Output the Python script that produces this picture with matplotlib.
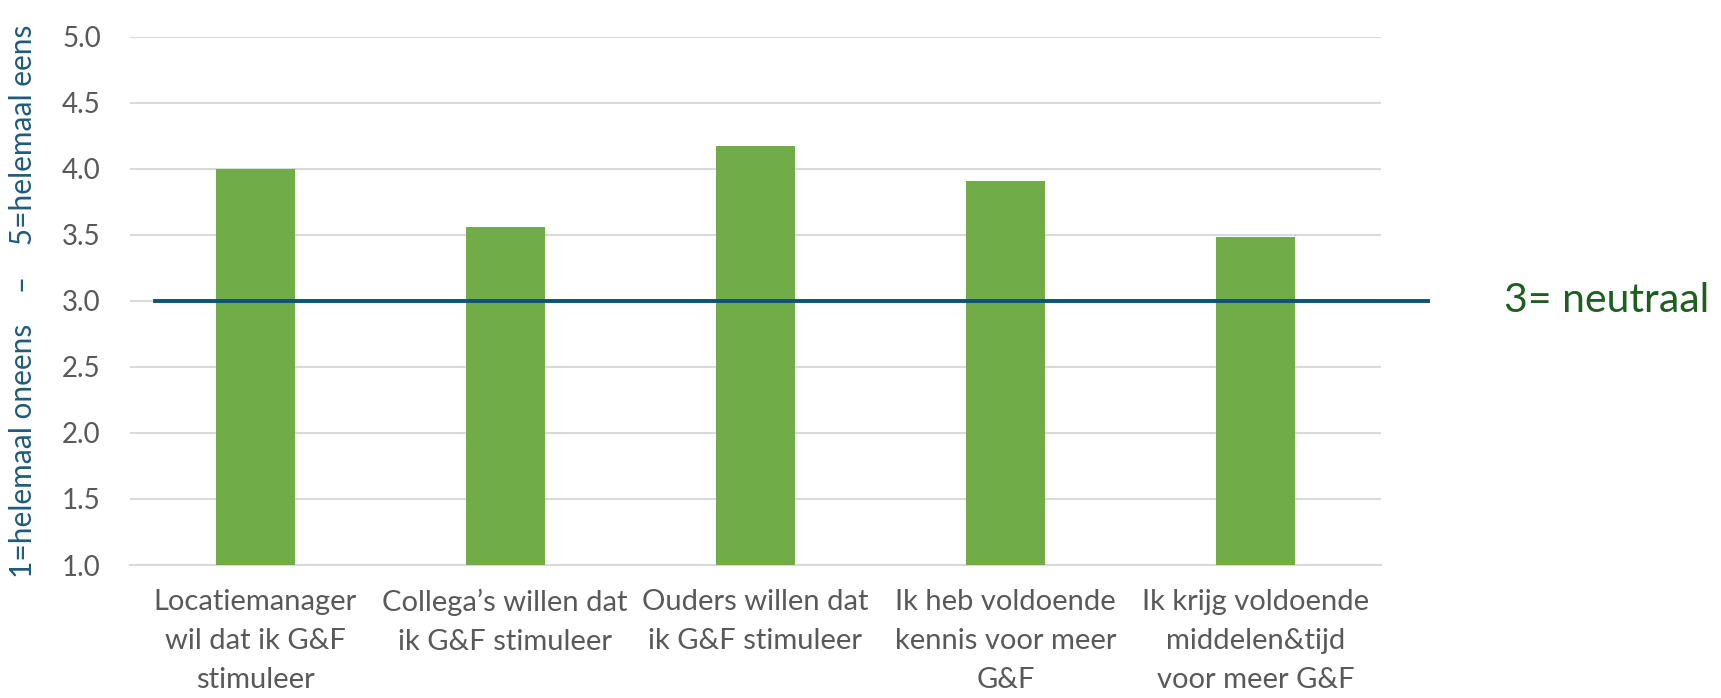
import matplotlib
matplotlib.use("Agg")
import matplotlib.pyplot as plt

# data
categories = [
    "Locatiemanager\nwil dat ik G&F\nstimuleer",
    "Collega\u2019s willen dat\nik G&F stimuleer",
    "Ouders willen dat\nik G&F stimuleer",
    "Ik heb voldoende\nkennis voor meer\nG&F",
    "Ik krijg voldoende\nmiddelen&tijd\nvoor meer G&F",
]
scores = [4.00, 3.56, 4.17, 3.91, 3.48]
yticks = [1.0, 1.5, 2.0, 2.5, 3.0, 3.5, 4.0, 4.5, 5.0]
neutral = 3.0

plt.rcParams['font.family'] = ['Lato', 'DejaVu Sans']

fig = plt.figure(figsize=(17.21, 6.98), dpi=100)
ax = fig.add_axes([0.0755, 0.1905, 0.7269, 0.7570])

x = list(range(len(categories)))
ax.bar(x, [s - 1.0 for s in scores], bottom=1.0, width=0.316,
       color="#70AD47", zorder=3)

ax.set_xlim(-0.5, len(categories) - 0.5)
ax.set_ylim(1.0, 5.0)
ax.set_yticks(yticks)
ax.set_yticklabels(["%.1f" % t for t in yticks])
ax.set_xticks(x)
ax.set_xticklabels(categories, fontsize=21, color="#595959", linespacing=1.62)
ax.tick_params(axis='y', length=0, labelsize=20, labelcolor="#595959", pad=21)
ax.tick_params(axis='x', length=0, pad=17)
ax.yaxis.grid(True, color="#D9D9D9", linewidth=1.5, zorder=0)
ax.set_axisbelow(True)
for side in ["top", "right", "left"]:
    ax.spines[side].set_visible(False)
ax.spines["bottom"].set_color("#D9D9D9")
ax.spines["bottom"].set_linewidth(1.5)

# neutral reference line, extends past the plot area
ax.plot([-0.4, 4.69], [neutral, neutral], color="#0F5273", linewidth=2.8,
        clip_on=False, zorder=4)
ax.text(4.99, neutral, "3= neutraal", fontsize=29.5, color="#1E5E20",
        va="center", ha="left", clip_on=False)

ax.set_ylabel("1=helemaal oneens    \u2013    5=helemaal eens", fontsize=21.5,
              color="#1F5C7A", labelpad=18)

fig.savefig("out.png", dpi=100)
